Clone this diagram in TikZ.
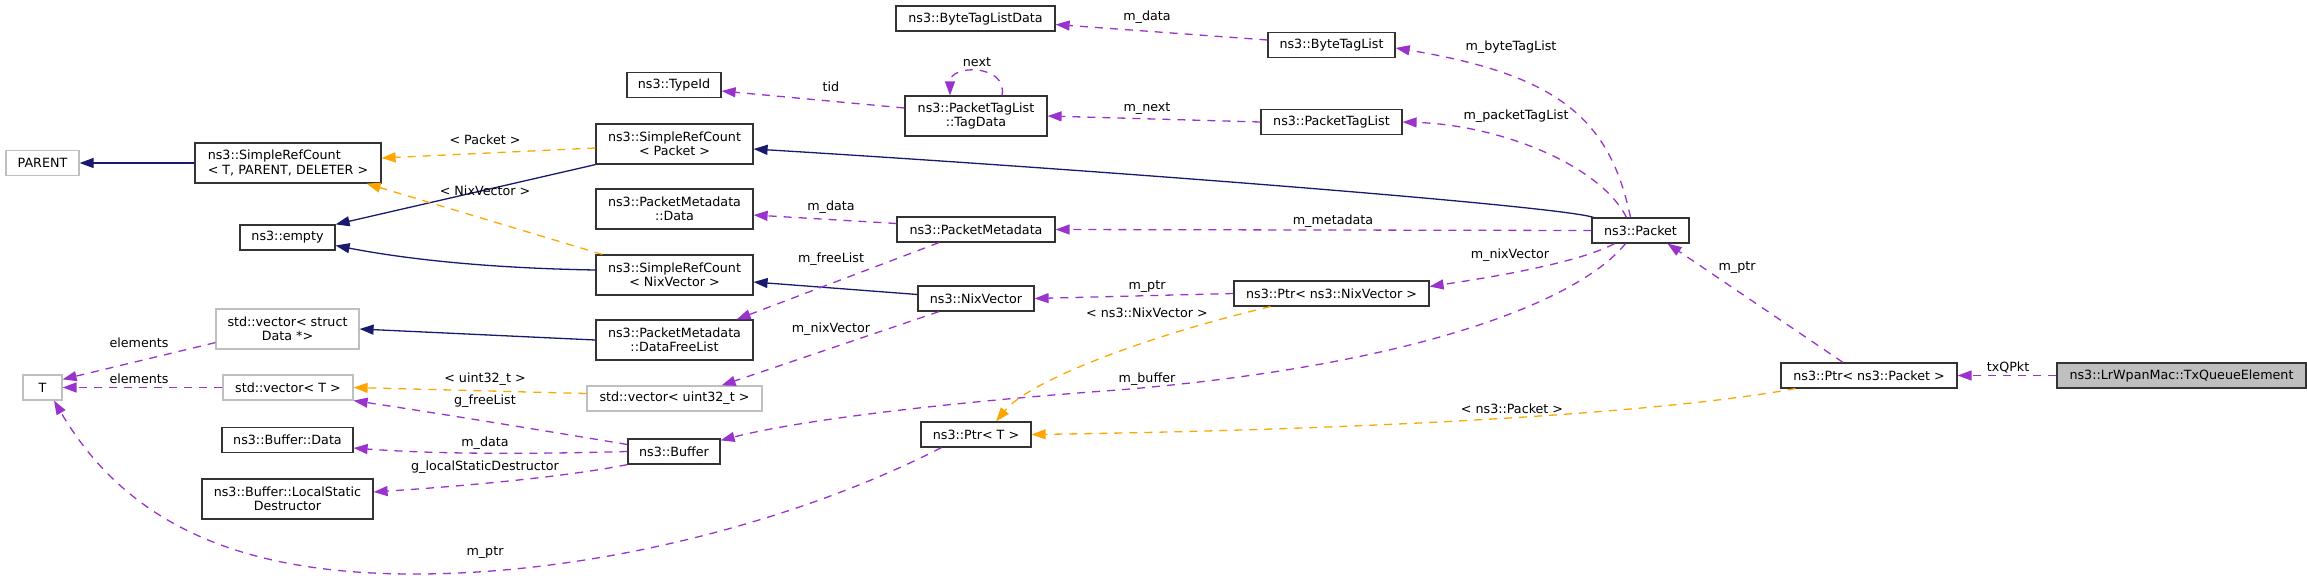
\documentclass[tikz,border=0pt]{standalone}
\usepackage{fontspec}
\setmainfont{DejaVu Sans}
\usetikzlibrary{arrows.meta,calc}
\definecolor{inhcolor}{HTML}{191970}
\definecolor{usecolor}{HTML}{9A32CD}
\definecolor{tplcolor}{HTML}{FFA500}
\definecolor{undoccolor}{HTML}{BFBFBF}
\tikzset{
  cls/.style={draw=black!80, line width=1.2pt, inner sep=0pt, minimum height=25,
    font=\fontsize{12.7}{14.5}\selectfont, align=center, fill=white},
  undoc/.style={cls, draw=undoccolor},
  current/.style={cls, fill=undoccolor},
  twoline/.style={minimum height=40},
  lbl/.style={font=\fontsize{12.7}{14.5}\selectfont, inner sep=0pt},
  inh/.style={draw=inhcolor, line width=1.3pt, -{Triangle[length=14pt,width=10pt]}},
  use/.style={draw=usecolor, line width=1.3pt, dash pattern=on 8pt off 7pt,
    -{Triangle[length=14pt,width=10pt]}},
  tpl/.style={draw=tplcolor, line width=1.3pt, dash pattern=on 8pt off 7pt,
    -{Triangle[length=14pt,width=10pt]}}
}
\begin{document}
\begin{tikzpicture}[x=1pt,y=-1pt]
            \useasboundingbox (0,0) rectangle (2307,578);

            % Classes, column by column
            \node [undoc, minimum width=73] (parent) at (42.5,163) {PARENT};
            \node [undoc, minimum width=39] (tT) at (42.5,387.5) {T};

            \node [cls, twoline, minimum width=186, align=left] (srcT) at (288,163) {ns3::SimpleRefCount\\< T, PARENT, DELETER >};
            \node [cls, minimum width=95] (empty) at (287.5,237.5) {ns3::empty};
            \node [undoc, twoline, minimum width=143] (vecData) at (287.5,329) {std::vector< struct\\Data *>};
            \node [undoc, minimum width=130] (vecT) at (288,387.5) {std::vector< T >};
            \node [cls, minimum width=131] (bufData) at (287.5,440) {ns3::Buffer::Data};
            \node [cls, twoline, minimum width=171] (bufLSD) at (287.5,499) {ns3::Buffer::LocalStatic\\Destructor};

            \node [cls, minimum width=94] (typeId) at (674,85) {ns3::TypeId};
            \node [cls, twoline, minimum width=157] (srcPacket) at (674.5,144) {ns3::SimpleRefCount\\< Packet >};
            \node [cls, twoline, minimum width=157] (pmData) at (674.5,209) {ns3::PacketMetadata\\::Data};
            \node [cls, twoline, minimum width=157] (srcNix) at (674.5,275) {ns3::SimpleRefCount\\< NixVector >};
            \node [cls, twoline, minimum width=157] (pmFree) at (674.5,340) {ns3::PacketMetadata\\::DataFreeList};
            \node [undoc, minimum width=175] (vecU) at (674.5,398.5) {std::vector< uint32\_t >};
            \node [cls, minimum width=92] (buffer) at (674,451.5) {ns3::Buffer};

            \node [cls, minimum width=159] (btlData) at (975.5,18.5) {ns3::ByteTagListData};
            \node [cls, twoline, minimum width=142] (tagData) at (976,116) {ns3::PacketTagList\\::TagData};
            \node [cls, minimum width=158] (pm) at (976,229.5) {ns3::PacketMetadata};
            \node [cls, minimum width=116] (nix) at (976,298.5) {ns3::NixVector};
            \node [cls, minimum width=110] (ptrT) at (976,434.5) {ns3::Ptr< T >};

            \node [cls, minimum width=127] (btl) at (1331.5,45) {ns3::ByteTagList};
            \node [cls, minimum width=141] (ptl) at (1331.5,122) {ns3::PacketTagList};
            \node [cls, minimum width=195] (ptrNix) at (1331.5,293.5) {ns3::Ptr< ns3::NixVector >};

            \node [cls, minimum width=97] (packet) at (1640.5,230.5) {ns3::Packet};
            \node [cls, minimum width=176] (ptrPacket) at (1869,375.5) {ns3::Ptr< ns3::Packet >};
            \node [current, minimum width=249] (txq) at (2181.5,375.5) {ns3::LrWpanMac::TxQueueElement};

            % Inheritance
            \draw [inh] (srcT.west) -- (parent.east);
            \draw [inh] (srcPacket.south west) -- (empty.north east);
            \draw [inh] ($(srcNix.west)+(0,-5)$) .. controls (480,268) and (400,258) .. ($(empty.east)+(0,8)$);
            \draw [inh] ($(packet.north west)+(2,0)$) .. controls (1560,206) and (1100,170) .. ($(srcPacket.east)+(0,5)$);
            \draw [inh] ($(nix.west)+(0,-4)$) -- ($(srcNix.east)+(0,7)$);
            \draw [inh] (pmFree.west) -- (vecData.east);

            % Template instances
            \draw [tpl] ($(srcPacket.west)+(0,4)$) -- ($(srcT.east)+(0,-5)$);
            \node [lbl] (lPacket) at (485,140) {< Packet >};
            \draw [tpl] ($(srcNix.north west)+(7,0)$) -- ($(srcT.south east)+(-15,0)$);
            \node [lbl] (lNix) at (485,191) {< NixVector >};
            \draw [tpl] ($(vecU.west)+(0,-5)$) -- (vecT.east);
            \node [lbl] (lUint) at (485,379) {< uint32\_t >};
            \draw [tpl] ($(ptrNix.south)+(-61,0)$) .. controls (1150,335) and (1030,380) .. ($(ptrT.north)+(20,0)$);
            \node [lbl] (lPtrNix) at (1147,313) {< ns3::NixVector >};
            \draw [tpl] ($(ptrPacket.south west)+(15,0)$) .. controls (1650,415) and (1350,430) .. (ptrT.east);
            \node [lbl] (lPtrPacket) at (1512,409) {< ns3::Packet >};

            % Members of ns3::Packet
            \draw [use] ($(packet.north)+(-10,0)$) .. controls (1610,120) and (1560,75) .. ($(btl.east)+(0,3)$);
            \node [lbl] (lBtl) at (1511,47.5) {m\_byteTagList};
            \draw [use] ($(packet.north)+(-14,0)$) .. controls (1600,165) and (1500,125) .. (ptl.east);
            \node [lbl] (lPtl) at (1516,116) {m\_packetTagList};
            \draw [use] (packet.west) -- (pm.east);
            \node [lbl] (lMeta) at (1333,221) {m\_metadata};
            \draw [use] ($(packet.south)+(-26,0)$) .. controls (1580,262) and (1500,276) .. ($(ptrNix.east)+(0,-7)$);
            \node [lbl] (lNixVec) at (1510,255) {m\_nixVector};
            \draw [use] ($(packet.south)+(-15,0)$) .. controls (1580,300) and (1420,365) .. (1118,390)
                .. controls (950,402) and (800,420) .. ($(buffer.north east)+(0,2)$);
            \node [lbl] (lBuffer) at (1147,379) {m\_buffer};

            % Tag lists
            \draw [use] ($(btl.west)+(0,-5)$) -- ($(btlData.east)+(0,6)$);
            \node [lbl] (lBtlData) at (1147,17) {m\_data};
            \draw [use] (ptl.west) -- (tagData.east);
            \node [lbl] (lNext) at (1147,109) {m\_next};
            \draw [use] ($(tagData.west)+(0,-8)$) -- ($(typeId.east)+(0,6)$);
            \node [lbl] (lTid) at (831,87) {tid};
            \draw [use] ($(tagData.north)+(26,0)$) .. controls (1008,64) and (950,64) .. ($(tagData.north)+(-26,0)$);
            \node [lbl] (lSelf) at (977,62) {next};

            % Metadata and nix vector
            \draw [use] ($(pm.west)+(0,-6)$) -- ($(pmData.east)+(0,6)$);
            \node [lbl] (lPmData) at (831,207) {m\_data};
            \draw [use] ($(pm.south)+(-37,0)$) -- ($(pmFree.north east)+(-17,0)$);
            \node [lbl] (lFreeList) at (831,259) {m\_freeList};
            \draw [use] (ptrNix.west) -- (nix.east);
            \node [lbl] (lNixPtr) at (1147,287) {m\_ptr};
            \draw [use] ($(nix.south)+(-37,0)$) -- ($(vecU.north east)+(-41,0)$);
            \node [lbl] (lNixVecU) at (831,329) {m\_nixVector};

            % Buffer
            \draw [use] ($(buffer.west)+(0,-7)$) .. controls (540,430) and (430,412) .. (vecT.south east);
            \node [lbl] (lFree) at (485,401) {g\_freeList};
            \draw [use] (buffer.west) .. controls (500,455) and (420,453) .. ($(bufData.east)+(0,8)$);
            \node [lbl] (lBufData) at (485,443) {m\_data};
            \draw [use] (buffer.south west) .. controls (560,478) and (450,487) .. ($(bufLSD.east)+(0,-7)$);
            \node [lbl] (lLSD) at (485,467) {g\_localStaticDestructor};

            % Containers and pointers
            \draw [use] ($(vecData.south west)+(0,-7)$) -- ($(tT.north east)+(0,5)$);
            \node [lbl] (lElem1) at (139,343) {elements};
            \draw [use] (vecT.west) -- (tT.east);
            \node [lbl] (lElem2) at (139,379) {elements};
            \draw [use] ($(ptrT.south west)+(21,0)$) .. controls (800,520) and (600,573) .. (420,574)
                .. controls (250,575) and (130,530) .. ($(tT.south)+(11.5,0)$);
            \node [lbl] (lTptr) at (485,553) {m\_ptr};
            \draw [use] ($(ptrPacket.north)+(-26,0)$) -- ($(packet.south)+(27,0)$);
            \node [lbl] (lPtr) at (1737,268) {m\_ptr};
            \draw [use] (txq.west) -- (ptrPacket.east);
            \node [lbl] (lTx) at (2008,367) {txQPkt};
\end{tikzpicture}
\end{document}
